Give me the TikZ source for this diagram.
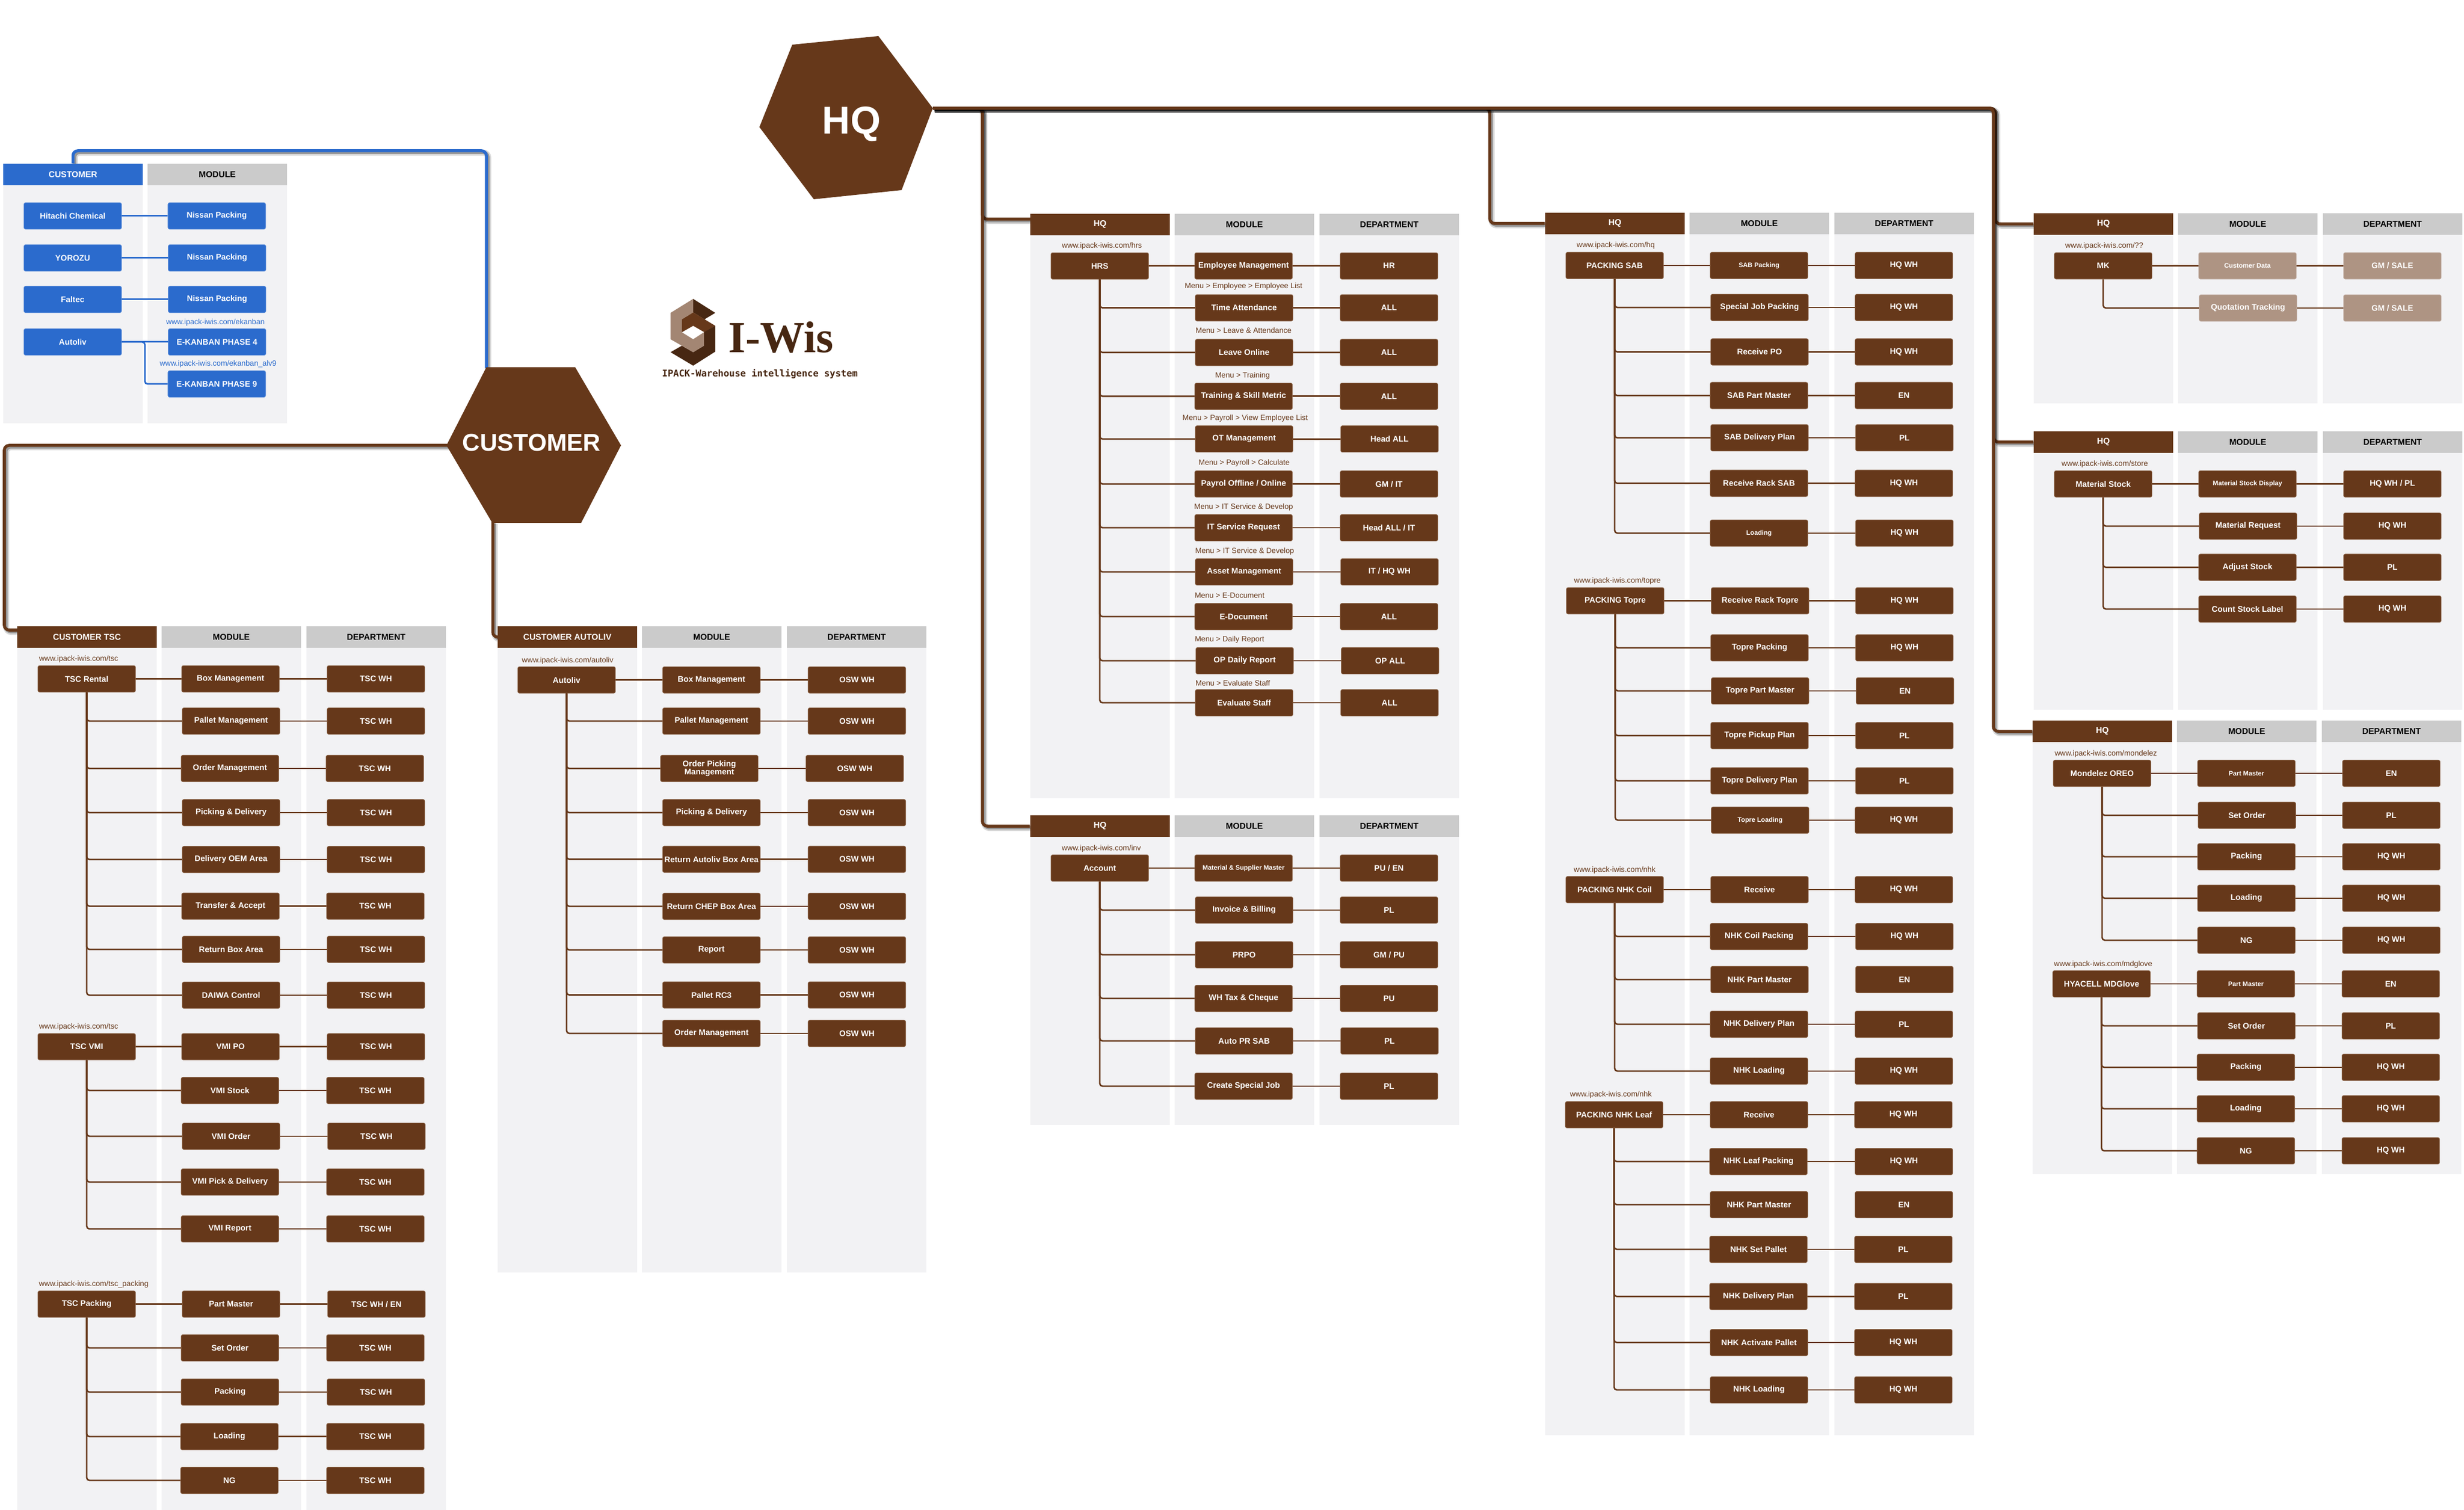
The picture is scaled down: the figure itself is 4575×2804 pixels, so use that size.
\documentclass[tikz,border=0pt]{standalone}
\usepackage{fontspec}
\setmainfont{Liberation Sans}
\newfontfamily\logofont{Liberation Serif}
\newfontfamily\tagfont{DejaVu Sans Mono}
\usetikzlibrary{backgrounds}

\definecolor{brn}{HTML}{66381A}
\definecolor{brnedge}{HTML}{8A6245}
\definecolor{pale}{HTML}{AE9483}
\definecolor{bluish}{HTML}{2B6BCD}
\definecolor{panelbg}{HTML}{F2F2F4}
\definecolor{headgrey}{HTML}{CBCBCB}

\newcommand{\itemfont}{\fontsize{4.3}{4.4}\selectfont\bfseries}
\newcommand{\tinyitem}{\fontsize{3.45}{3.6}\selectfont}
\newcommand{\headfont}{\fontsize{4.5}{4.7}\selectfont\bfseries}
\newcommand{\urlfont}{\fontsize{4}{4.2}\selectfont}

\tikzset{
  itembox/.style={fill=brn, draw=brnedge, line width=0.01cm, text=white, font=\itemfont, align=center,
    minimum width=1.81cm, minimum height=0.49cm, inner sep=0pt, rounded corners=0.03cm, yshift=-0.02cm},
  blueitem/.style={fill=bluish, draw=bluish!80!white},
  paleitem/.style={fill=pale, draw=pale!80!white},
  headbox/.style={minimum width=2.59cm, minimum height=0.4cm, inner sep=0pt, font=\headfont},
  greyhead/.style={headbox, fill=headgrey, text=black},
  urltext/.style={font=\urlfont, text=brn, inner sep=0pt, yshift=-0.02cm},
  rowline/.style={draw=brn, line width=0.028cm, rounded corners=0.05cm},
  blueline/.style={draw=bluish, line width=0.03cm, rounded corners=0.05cm},
  mainline/.style={draw=brn, line width=0.055cm, rounded corners=0.09cm,
    preaction={draw=black, opacity=0.15, line width=0.11cm, transform canvas={xshift=0.035cm, yshift=-0.035cm}},
    preaction={draw=black, opacity=0.3, line width=0.06cm, transform canvas={xshift=0.03cm, yshift=-0.03cm}}},
  bluemain/.style={mainline, draw=bluish},
  hextext/.style={text=white, font=\bfseries, inner sep=0pt},
}

% name, left, top, bottom, header
\newcommand{\threecols}[5]{
  \fill[panelbg] (#2,#3) rectangle (#2+259,#4);
  \fill[panelbg] (#2+268,#3) rectangle (#2+527,#4);
  \fill[panelbg] (#2+537,#3) rectangle (#2+796,#4);
  \node[headbox, fill=brn, text=white] (#1head) at (#2+129.5,#3+20) {#5};
  \node[greyhead] (#1mod) at (#2+397.5,#3+20) {MODULE};
  \node[greyhead] (#1dep) at (#2+666.5,#3+20) {DEPARTMENT};
}
% name, x, y, text, url x, url y, url
\newcommand{\rootitem}[7]{
  \node[itembox] (#1) at (#2,#3) {#4};
  \node[urltext] (#1url) at (#5,#6) {#7};
}
% style, name, y, module x, module, department x, department
\newcommand{\rowboxes}[7][]{
  \node[itembox,#1] (#2m) at (#4,#3) {#5};
  \node[itembox,#1] (#2d) at (#6,#3) {#7};
}
% style, name, root, y, module x, module, department x, department
\newcommand{\firstitem}[8][]{
  \rowboxes[#1]{#2}{#4}{#5}{#6}{#7}{#8}
  \draw[rowline] (#3.east) -- (#2m.west);
  \draw[rowline] (#2m) -- (#2d);
}
\newcommand{\nextitem}[8][]{
  \rowboxes[#1]{#2}{#4}{#5}{#6}{#7}{#8}
  \draw[rowline] (#3.south) |- (#2m.west);
  \draw[rowline] (#2m) -- (#2d);
}
\newcommand{\openitem}[8][]{
  \rowboxes[#1]{#2}{#4}{#5}{#6}{#7}{#8}
  \draw[rowline] (#3.south) |- (#2m.west);
}

\begin{document}
\begin{tikzpicture}[x=0.01cm, y=-0.01cm]
  \useasboundingbox (0,0) rectangle (4575,2804);

  % hexagons
  \fill[brn] (1471,83) -- (1631,67) -- (1732,201) -- (1674,353) -- (1511,370) -- (1410,236) -- cycle;
  \node[hextext, font=\fontsize{20.5}{22}\selectfont\bfseries] (hqhex) at (1581,230) {HQ};
  \coordinate (hqtip) at (1732,201);
  \fill[brn] (903,682) -- (1068,682) -- (1153,827) -- (1079,971) -- (914,971) -- (829,827) -- cycle;
  \node[hextext, font=\fontsize{12.8}{14}\selectfont\bfseries] (custhex) at (987,822) {CUSTOMER};
  \coordinate (custtop) at (903,684);
  \coordinate (custleft) at (831,827);
  \coordinate (custbot) at (915,969);

  % logo
  \fill[fill=brn!70!black] (1287,555) -- (1328,581) -- (1308,593) -- (1287,580) -- cycle;
  \fill[fill=brn] (1266,593) -- (1287,580) -- (1328,605) -- (1308,617) -- (1287,605) -- (1266,617) -- cycle;
  \fill[fill=brn!70!black] (1328,605) -- (1328,653) -- (1287,679) -- (1245,654) -- (1266,642) -- (1287,654) -- (1307,642) -- (1307,617) -- cycle;
  \fill[fill=pale!85!brn] (1245,581) -- (1287,555) -- (1287,580) -- (1266,593) -- (1266,617) -- (1287,630) -- (1287,654) -- (1245,630) -- cycle;
  \fill[fill=pale!85!brn] (1287,630) -- (1307,617) -- (1307,642) -- (1287,654) -- cycle;
  \node[inner sep=0pt, text=brn!70!black, font=\logofont\fontsize{23.5}{25}\selectfont\bfseries] (logoname) at (1450,626) {I-Wis};
  \node[inner sep=0pt, text=brn!70!black, font=\tagfont\fontsize{4.9}{5.2}\selectfont\bfseries] (logotag) at (1411,694) {IPACK-Warehouse intelligence system};

  % customer list
  \fill[panelbg] (6,304) rectangle (265,786);
  \fill[panelbg] (274,304) rectangle (533,786);
  \node[headbox, fill=bluish, text=white] (bluehead) at (135.5,324) {CUSTOMER};
  \node[greyhead] (bluemod) at (403.5,324) {MODULE};
  \node[itembox, blueitem] (hitachi) at (135,399) {Hitachi Chemical};
  \node[itembox, blueitem] (yorozu) at (135,477) {YOROZU};
  \node[itembox, blueitem] (faltec) at (135,554) {Faltec};
  \node[itembox, blueitem] (autoliv) at (135,633) {Autoliv};
  \node[itembox, blueitem] (nissanA) at (402.5,399) {Nissan Packing};
  \node[itembox, blueitem] (nissanB) at (403,477) {Nissan Packing};
  \node[itembox, blueitem] (nissanC) at (403,554) {Nissan Packing};
  \node[itembox, blueitem] (ekanA) at (403,633) {E-KANBAN PHASE 4};
  \node[itembox, blueitem] (ekanB) at (402.5,711) {E-KANBAN PHASE 9};
  \node[urltext, text=bluish] (ekanAurl) at (400,597) {www.ipack-iwis.com/ekanban};
  \node[urltext, text=bluish] (ekanBurl) at (405,674) {www.ipack-iwis.com/ekanban\_alv9};
  \coordinate (blueknee) at (269,635);
  \draw[blueline] (hitachi) -- (nissanA);
  \draw[blueline] (yorozu) -- (nissanB);
  \draw[blueline] (faltec) -- (nissanC);
  \draw[blueline] (autoliv) -- (ekanA);
  \draw[blueline] (autoliv.east) -- (blueknee) |- (ekanB.west);

  % customer tsc
  \threecols{tsc}{32}{1163}{2804}{CUSTOMER TSC}
  \rootitem{rental}{161}{1258.6}{TSC Rental}{146}{1222}{www.ipack-iwis.com/tsc}
  \firstitem{rentA}{rental}{1258.6}{428}{Box Management}{698}{TSC WH}
  \nextitem{rentB}{rental}{1337}{429}{Pallet Management}{698}{TSC WH}
  \nextitem{rentC}{rental}{1425}{427}{Order Management}{696}{TSC WH}
  \nextitem{rentD}{rental}{1507}{429}{Picking \& Delivery}{698}{TSC WH}
  \nextitem{rentE}{rental}{1594}{429}{Delivery OEM Area}{698}{TSC WH}
  \nextitem{rentF}{rental}{1680.7}{428}{Transfer \& Accept}{697}{TSC WH}
  \nextitem{rentG}{rental}{1761}{429}{Return Box Area}{698}{TSC WH}
  \nextitem{rentH}{rental}{1846}{429}{DAIWA Control}{698}{TSC WH}
  \rootitem{vmi}{161}{1941.7}{TSC VMI}{146}{1905}{www.ipack-iwis.com/tsc}
  \firstitem{vmiA}{vmi}{1941.7}{428}{VMI PO}{698}{TSC WH}
  \nextitem{vmiB}{vmi}{2023}{427}{VMI Stock}{697}{TSC WH}
  \nextitem{vmiC}{vmi}{2108}{429}{VMI Order}{699}{TSC WH}
  \nextitem{vmiD}{vmi}{2193}{427}{VMI Pick \& Delivery}{697}{TSC WH}
  \nextitem{vmiE}{vmi}{2280}{427}{VMI Report}{697}{TSC WH}
  \rootitem{tpack}{161}{2419.7}{TSC Packing}{174}{2383}{www.ipack-iwis.com/tsc\_packing}
  \firstitem{tpackA}{tpack}{2419.7}{429}{Part Master}{699}{TSC WH / EN}
  \nextitem{tpackB}{tpack}{2501}{427}{Set Order}{697}{TSC WH}
  \nextitem{tpackC}{tpack}{2583}{427}{Packing}{698}{TSC WH}
  \nextitem{tpackD}{tpack}{2665.7}{426}{Loading}{697}{TSC WH}
  \nextitem{tpackE}{tpack}{2747}{426}{NG}{697}{TSC WH}

  % customer autoliv
  \threecols{alv}{924}{1163}{2363}{CUSTOMER AUTOLIV}
  \rootitem{alvroot}{1052}{1260.6}{Autoliv}{1054}{1224.5}{www.ipack-iwis.com/autoliv}
  \firstitem{alvA}{alvroot}{1260.6}{1321}{Box Management}{1591}{OSW WH}
  \nextitem{alvB}{alvroot}{1337}{1321}{Pallet Management}{1591}{OSW WH}
  \nextitem{alvC}{alvroot}{1425}{1317}{Order Picking\\Management}{1587}{OSW WH}
  \nextitem{alvD}{alvroot}{1507}{1321}{Picking \& Delivery}{1591}{OSW WH}
  \nextitem{alvE}{alvroot}{1593.6}{1321}{Return Autoliv Box Area}{1591}{OSW WH}
  \nextitem{alvF}{alvroot}{1681}{1321}{Return CHEP Box Area}{1591}{OSW WH}
  \nextitem{alvG}{alvroot}{1762}{1321}{Report}{1591}{OSW WH}
  \nextitem{alvH}{alvroot}{1845.6}{1321}{Pallet RC3}{1591}{OSW WH}
  \nextitem{alvI}{alvroot}{1917}{1321}{Order Management}{1591}{OSW WH}

  % hq hrs
  \threecols{hrs}{1913}{397}{1482}{HQ}
  \rootitem{hrsroot}{2042}{491.8}{HRS}{2046}{455}{www.ipack-iwis.com/hrs}
  \firstitem{hrsA}{hrsroot}{491.8}{2309}{Employee Management}{2579}{HR}
  \nextitem{hrsB}{hrsroot}{569.6}{2310}{Time Attendance}{2579}{ALL}
  \nextitem{hrsC}{hrsroot}{652.5}{2310}{Leave Online}{2579}{ALL}
  \nextitem{hrsD}{hrsroot}{733.9}{2309}{Training \& Skill Metric}{2579}{ALL}
  \nextitem{hrsE}{hrsroot}{813.2}{2310}{OT Management}{2580}{Head ALL}
  \nextitem{hrsF}{hrsroot}{896.7}{2309}{Payrol Offline / Online}{2579}{GM / IT}
  \nextitem{hrsG}{hrsroot}{978}{2309}{IT Service Request}{2579}{Head ALL / IT}
  \nextitem{hrsH}{hrsroot}{1060}{2310}{Asset Management}{2580}{IT / HQ WH}
  \nextitem{hrsI}{hrsroot}{1143}{2309}{E-Document}{2579}{ALL}
  \nextitem{hrsJ}{hrsroot}{1225}{2311}{OP Daily Report}{2581}{OP ALL}
  \nextitem{hrsK}{hrsroot}{1303}{2310}{Evaluate Staff}{2580}{ALL}
  \node[urltext] (menuA) at (2309,530) {Menu > Employee > Employee List};
  \node[urltext] (menuB) at (2309,611) {Menu > Leave \& Attendance};
  \node[urltext] (menuC) at (2307,696) {Menu > Training};
  \node[urltext] (menuD) at (2312,775) {Menu > Payroll > View Employee List};
  \node[urltext] (menuE) at (2310,858) {Menu > Payroll > Calculate};
  \node[urltext] (menuF) at (2309,940) {Menu > IT Service \& Develop};
  \node[urltext] (menuG) at (2311,1022) {Menu > IT Service \& Develop};
  \node[urltext] (menuH) at (2283,1104) {Menu > E-Document};
  \node[urltext] (menuI) at (2283,1186) {Menu > Daily Report};
  \node[urltext] (menuJ) at (2289,1266) {Menu > Evaluate Staff};

  % hq account
  \threecols{acc}{1913}{1514}{2089}{HQ}
  \rootitem{accroot}{2042}{1610}{Account}{2045}{1574}{www.ipack-iwis.com/inv}
  \firstitem{accA}{accroot}{1610}{2309}{{\tinyitem Material \& Supplier Master}}{2579}{PU / EN}
  \nextitem{accB}{accroot}{1688}{2310}{Invoice \& Billing}{2579}{PL}
  \nextitem{accC}{accroot}{1771}{2310}{PRPO}{2579}{GM / PU}
  \nextitem{accD}{accroot}{1852}{2309}{WH Tax \& Cheque}{2579}{PU}
  \nextitem{accE}{accroot}{1931}{2310}{Auto PR SAB}{2580}{PL}
  \nextitem{accF}{accroot}{2015}{2309}{Create Special Job}{2579}{PL}

  % hq packing
  \threecols{pack}{2869}{395}{2665}{HQ}
  \rootitem{sab}{2998}{491}{PACKING SAB}{3000}{454}{www.ipack-iwis.com/hq}
  \firstitem{sabA}{sab}{491}{3266}{{\tinyitem SAB Packing}}{3535}{HQ WH}
  \nextitem{sabB}{sab}{569}{3267}{Special Job Packing}{3535}{HQ WH}
  \nextitem{sabC}{sab}{651.5}{3267}{Receive PO}{3535}{HQ WH}
  \nextitem{sabD}{sab}{732.5}{3266}{SAB Part Master}{3535}{EN}
  \nextitem{sabE}{sab}{811}{3267}{SAB Delivery Plan}{3536}{PL}
  \nextitem{sabF}{sab}{895.5}{3266}{Receive Rack SAB}{3535}{HQ WH}
  \nextitem{sabG}{sab}{988}{3266}{{\tinyitem Loading}}{3536}{HQ WH}
  \rootitem{topre}{2999}{1113.6}{PACKING Topre}{3003}{1077}{www.ipack-iwis.com/topre}
  \firstitem{topA}{topre}{1113.6}{3268}{Receive Rack Topre}{3536}{HQ WH}
  \nextitem{topB}{topre}{1201}{3267}{Topre Packing}{3536}{HQ WH}
  \nextitem{topC}{topre}{1281}{3268}{Topre Part Master}{3537}{EN}
  \nextitem{topD}{topre}{1364}{3267}{Topre Pickup Plan}{3536}{PL}
  \nextitem{topE}{topre}{1448}{3267}{Topre Delivery Plan}{3536}{PL}
  \nextitem{topF}{topre}{1521}{3268}{{\tinyitem Topre Loading}}{3535}{HQ WH}
  \rootitem{coil}{2998}{1650}{PACKING NHK Coil}{2998}{1614}{www.ipack-iwis.com/nhk}
  \firstitem{coilA}{coil}{1650}{3267}{Receive}{3535}{HQ WH}
  \nextitem{coilB}{coil}{1737}{3266}{NHK Coil Packing}{3536}{HQ WH}
  \openitem{coilC}{coil}{1817}{3267}{NHK Part Master}{3536}{EN}
  \nextitem{coilD}{coil}{1900}{3266}{NHK Delivery Plan}{3535}{PL}
  \nextitem{coilE}{coil}{1987}{3266}{NHK Loading}{3535}{HQ WH}
  \rootitem{leaf}{2997}{2068}{PACKING NHK Leaf}{2991}{2031}{www.ipack-iwis.com/nhk}
  \firstitem{leafA}{leaf}{2068}{3266}{Receive}{3534}{HQ WH}
  \nextitem{leafB}{leaf}{2155}{3265}{NHK Leaf Packing}{3535}{HQ WH}
  \openitem{leafC}{leaf}{2235}{3266}{NHK Part Master}{3535}{EN}
  \nextitem{leafD}{leaf}{2318}{3265}{NHK Set Pallet}{3534}{PL}
  \nextitem{leafE}{leaf}{2405.5}{3265}{NHK Delivery Plan}{3534}{PL}
  \nextitem{leafF}{leaf}{2491}{3266}{NHK Activate Pallet}{3534}{HQ WH}
  \nextitem{leafG}{leaf}{2579}{3266}{NHK Loading}{3534}{HQ WH}

  % hq mk
  \threecols{mk}{3776}{396}{749}{HQ}
  \rootitem{mkroot}{3905}{491.6}{MK}{3907}{455}{www.ipack-iwis.com/??}
  \firstitem[paleitem]{mkA}{mkroot}{491.6}{4173}{{\tinyitem Customer Data}}{4442}{GM / SALE}
  \nextitem[paleitem]{mkB}{mkroot}{570}{4174}{Quotation Tracking}{4442}{GM / SALE}

  % hq store
  \threecols{sto}{3776}{801}{1318}{HQ}
  \rootitem{stoot}{3905}{896.6}{Material Stock}{3908}{860}{www.ipack-iwis.com/store}
  \firstitem{stoA}{stoot}{896.6}{4173}{{\tinyitem Material Stock Display}}{4442}{HQ WH / PL}
  \nextitem{stoB}{stoot}{975}{4174}{Material Request}{4442}{HQ WH}
  \nextitem{stoC}{stoot}{1051.5}{4173}{Adjust Stock}{4442}{PL}
  \nextitem{stoD}{stoot}{1129}{4173}{Count Stock Label}{4442}{HQ WH}

  % hq mondelez
  \threecols{mon}{3774}{1338}{2180}{HQ}
  \rootitem{oreo}{3903}{1434}{Mondelez OREO}{3910}{1398}{www.ipack-iwis.com/mondelez}
  \firstitem{oreoA}{oreo}{1434}{4171}{{\tinyitem Part Master}}{4440}{EN}
  \nextitem{oreoB}{oreo}{1512}{4172}{Set Order}{4440}{PL}
  \nextitem{oreoC}{oreo}{1589}{4171}{Packing}{4440}{HQ WH}
  \nextitem{oreoD}{oreo}{1666}{4171}{Loading}{4440}{HQ WH}
  \nextitem{oreoE}{oreo}{1744}{4171}{NG}{4440}{HQ WH}
  \rootitem{glove}{3902}{1825}{HYACELL MDGlove}{3905}{1788.5}{www.ipack-iwis.com/mdglove}
  \firstitem{gloveA}{glove}{1825}{4170}{{\tinyitem Part Master}}{4439}{EN}
  \nextitem{gloveB}{glove}{1903}{4171}{Set Order}{4439}{PL}
  \nextitem{gloveC}{glove}{1980}{4170}{Packing}{4439}{HQ WH}
  \nextitem{gloveD}{glove}{2057}{4170}{Loading}{4439}{HQ WH}
  \nextitem{gloveE}{glove}{2135}{4170}{NG}{4439}{HQ WH}

  % main connectors
  \coordinate (hrsin) at (1913,407);
  \coordinate (tscin) at (32,1170);
  \coordinate (busA) at (1824,201);
  \coordinate (busB) at (2766,201);
  \coordinate (busC) at (3705,201);
  \coordinate (busD) at (3702,201);
  \coordinate (busE) at (3701,201);
  \coordinate (custbend) at (8,827);
  \coordinate (bluebend) at (903,280);
  \begin{scope}[on background layer]
    \draw[mainline] (hqtip) -- (busA) |- (hrsin);
    \draw[mainline] (hqtip) -- (busA) |- (acchead.west);
    \draw[mainline] (hqtip) -- (busB) |- (packhead.west);
    \draw[mainline] (hqtip) -- (busC) |- (mkhead.west);
    \draw[mainline] (hqtip) -- (busD) |- (stohead.west);
    \draw[mainline] (hqtip) -- (busE) |- (monhead.west);
    \draw[mainline] (custleft) -- (custbend) |- (tscin);
    \draw[mainline] (custbot) |- (alvhead.west);
    \draw[bluemain] (bluehead.north) |- (bluebend) -- (custtop);
  \end{scope}
\end{tikzpicture}
\end{document}
